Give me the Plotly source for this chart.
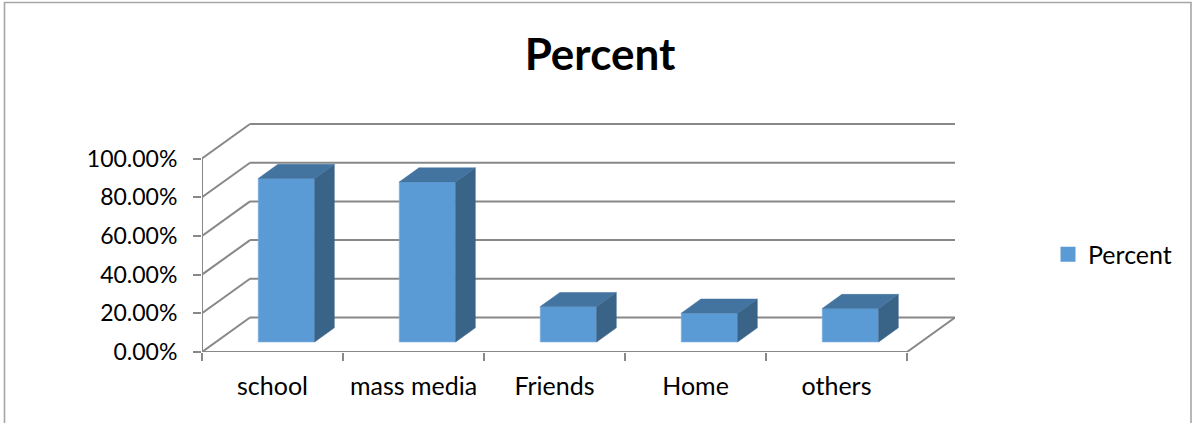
import plotly.graph_objects as go

# ---- data ----
categories = ["school", "mass media", "Friends", "Home", "others"]
percent_values = [84.5, 82.7, 18.3, 14.9, 17.3]
y_ticks = [0, 20, 40, 60, 80, 100]
y_tick_labels = [f"{v:.2f}%" for v in y_ticks]
series_name = "Percent"

# ---- geometry (pixels) ----
W, H = 1193, 423
PX_X = 141.0          # pixels per category
PX_Y = 1.935          # pixels per percent
ML, MB = 202, 71
DEPTH_PX = (48.0, 34.5)   # oblique depth vector of the floor (px)
n = len(categories)
plot_w = n * PX_X + DEPTH_PX[0]
plot_h = 229
MR = W - ML - plot_w
MT = H - MB - plot_h

x_lo = -0.5
x_hi = x_lo + plot_w / PX_X
y_hi = plot_h / PX_Y
DX = DEPTH_PX[0] / PX_X       # depth vector in data units
DY = DEPTH_PX[1] / PX_Y

BAR_W = 0.4
F_FRONT, F_BACK = 0.29, 0.70

FRONT = "#5B9BD5"
TOP = "#43739F"
SIDE = "#3A6388"
GRID = "#888888"
FONT = "Lato"

fig = go.Figure()

# front faces
fig.add_trace(go.Bar(
    x=[i + F_FRONT * DX for i in range(n)],
    y=percent_values,
    base=[F_FRONT * DY] * n,
    width=BAR_W,
    marker=dict(color=FRONT, line=dict(color="#86B2E3", width=0.6)),
    showlegend=False, hoverinfo="skip", name=series_name,
))

ddx = (F_BACK - F_FRONT) * DX
ddy = (F_BACK - F_FRONT) * DY
for i, v in enumerate(percent_values):
    xl = i + F_FRONT * DX - BAR_W / 2
    xr = xl + BAR_W
    b = F_FRONT * DY
    t = b + v
    # side face
    fig.add_trace(go.Scatter(
        x=[xr, xr, xr + ddx, xr + ddx, xr],
        y=[b, t, t + ddy, b + ddy, b],
        fill="toself", fillcolor=SIDE, mode="lines",
        line=dict(color=SIDE, width=0.5), showlegend=False, hoverinfo="skip"))
    # top face
    fig.add_trace(go.Scatter(
        x=[xl, xr, xr + ddx, xl + ddx, xl],
        y=[t, t, t + ddy, t + ddy, t],
        fill="toself", fillcolor=TOP, mode="lines",
        line=dict(color=TOP, width=0.5), showlegend=False, hoverinfo="skip"))

# legend entry
fig.add_trace(go.Scatter(
    x=[None], y=[None], mode="markers", name=series_name,
    marker=dict(symbol="square", size=15, color=FRONT), showlegend=True))

# ---- walls & floor ----
shapes = []
line = dict(color=GRID, width=2)
x_end = x_lo + n
for v in y_ticks:
    # back wall gridline
    shapes.append(dict(type="line", xref="x", yref="y", layer="below",
                       x0=x_lo + DX, y0=v + DY, x1=x_end + DX, y1=v + DY, line=line))
    # side wall gridline
    shapes.append(dict(type="line", xref="x", yref="y", layer="below",
                       x0=x_lo, y0=v, x1=x_lo + DX, y1=v + DY, line=line))
# front vertical axis
shapes.append(dict(type="line", xref="x", yref="y", layer="below",
                   x0=x_lo, y0=0, x1=x_lo, y1=max(y_ticks), line=line))
# floor front edge and right edge
shapes.append(dict(type="line", xref="x", yref="y", layer="below",
                   x0=x_lo, y0=0, x1=x_end, y1=0, line=line))
shapes.append(dict(type="line", xref="x", yref="y", layer="below",
                   x0=x_end, y0=0, x1=x_end + DX, y1=DY, line=line))
# outer frame
shapes.append(dict(type="rect", xref="paper", yref="paper", layer="below",
                   x0=(4.5 - ML) / plot_w, x1=(1191 - ML) / plot_w,
                   y0=-(MB + 20) / plot_h, y1=(H - 2.5 - MB) / plot_h,
                   line=dict(color="#A6A6A6", width=1.6)))

fig.update_layout(
    width=W, height=H, autosize=False,
    margin=dict(l=ML, r=MR, t=MT, b=MB, autoexpand=False),
    paper_bgcolor="white", plot_bgcolor="rgba(0,0,0,0)",
    font=dict(family=FONT, color="black", size=24),
    title=dict(text="<b>Percent</b>", x=600 / W, xref="container", xanchor="center",
               y=1 - 55 / H, yref="container", yanchor="middle",
               font=dict(family=FONT, size=44, color="black")),
    showlegend=True,
    legend=dict(x=(1048 - ML) / plot_w, y=(H - MB - 254.5) / plot_h,
                xanchor="left", yanchor="middle",
                font=dict(family=FONT, size=25, color="black"),
                bgcolor="rgba(0,0,0,0)", borderwidth=0),
    shapes=shapes,
    xaxis=dict(range=[x_lo, x_hi], tickmode="array", tickvals=list(range(n)),
               ticktext=categories, ticks="", showgrid=False, zeroline=False,
               showline=False, ticklabelstandoff=17, fixedrange=True,
               tickfont=dict(family=FONT, size=25, color="black"),
               minor=dict(tickmode="array", tickvals=[x_lo + k for k in range(n + 1)],
                          ticks="outside", ticklen=8, tickcolor=GRID, tickwidth=2,
                          showgrid=False)),
    yaxis=dict(range=[0, y_hi], tickmode="array", tickvals=y_ticks, ticktext=y_tick_labels,
               ticks="outside", ticklen=8, tickcolor=GRID, tickwidth=2,
               showgrid=False, zeroline=False, showline=False,
               tickfont=dict(family=FONT, size=23, color="black"),
               ticklabelstandoff=11, fixedrange=True),
    bargap=0,
)

fig.write_html("out.html", config={"displayModeBar": False, "staticPlot": True},
               post_script="document.body.style.margin='0';document.body.style.overflow='hidden';")
